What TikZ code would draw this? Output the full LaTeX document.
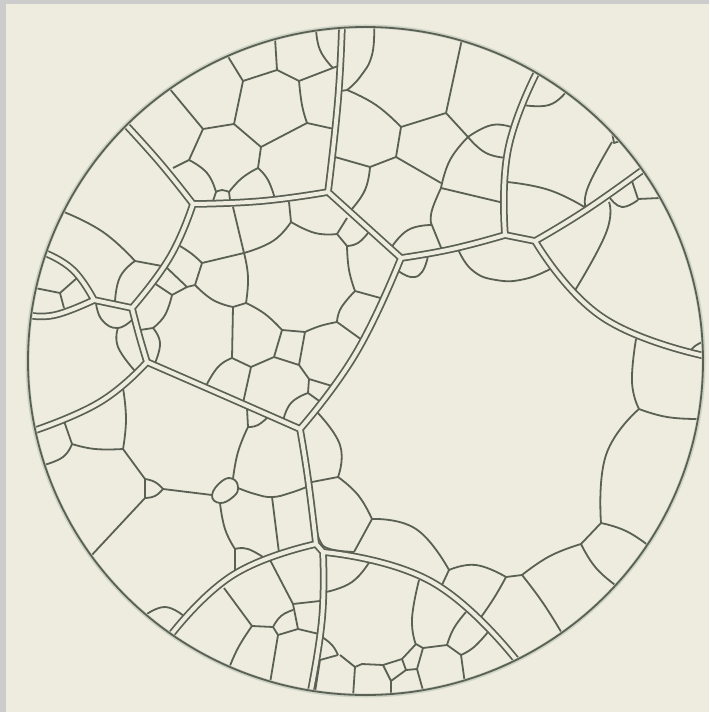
\documentclass[tikz,border=0pt]{standalone}
\definecolor{paper}{HTML}{EEEBDF}
\definecolor{frame}{HTML}{CCCCCC}
\definecolor{ink}{HTML}{5A6154}
\definecolor{halo}{HTML}{CDD3C4}
\newcommand{\wallpaths}{
  plot coordinates {(342,24) (338,100) (328,192)}
  plot coordinates {(328,192) (262,201) (193,204)}
  plot coordinates {(193,204) (161,164) (126,125)}
  plot coordinates {(193,204) (170,257) (132,308)}
  plot coordinates {(28,315) (55,315) (94,300)}
  plot coordinates {(94,300) (73,270) (45,253)}
  (94,300) -- (132,308)
  plot coordinates {(132,308) (139,335) (147,362)}
  plot coordinates {(147,362) (100,402) (33,431)}
  plot coordinates {(147,362) (225,396) (300,429)}
  plot coordinates {(300,429) (356,353) (401,258)}
  (401,258) -- (328,192)
  plot coordinates {(401,258) (452,249) (505,235)}
  plot coordinates {(505,235) (508,150) (537,72)}
  (505,235) -- (535,241)
  plot coordinates {(535,241) (586,210) (644,169)}
  plot coordinates {(535,241) (602,317) (705,356)}
  plot coordinates {(300,429) (308,479) (316,544)}
  plot coordinates {(316,544) (233,575) (170,636)}
  (316,544) -- (323,552)
  plot coordinates {(323,552) (322,619) (310,695)}
  plot coordinates {(323,552) (432,582) (518,662)}
}
\tikzset{
  every plot/.style={smooth,tension=0.8},
  wallout/.style={draw=ink,line width=0.15cm,line join=round},
  wallin/.style={draw=paper,line width=0.08cm,line join=round,line cap=round},
  vein/.style={draw=ink,line width=0.036cm,line join=round},
  rim/.style={draw=ink,line width=0.036cm},
  rimhalo/.style={draw=halo,line width=0.08cm},
  disc/.style={x radius=337.5,y radius=334}
}
\begin{document}
\begin{tikzpicture}[x=0.02cm,y=-0.02cm]
  \useasboundingbox (0,0) rectangle (709,712);
  \fill[frame] (0,0) rectangle (709,712);
  \fill[paper] (6,4) rectangle (709,712);
  \begin{scope}
  \clip (365.5,361) ellipse[disc];
  \draw[vein] (275,38) -- (277,70) (227,55) -- (243,81) -- (277,70) -- (299,81) -- (338,66)
    (307,123) -- (334,129)
    (243,81) -- (234,124) (169,88) -- (203,129) -- (234,124) -- (261,147) -- (307,123)
    (261,147) -- (258,168) (203,129) -- (189,160) -- (173,168)
    (216,192) -- (213,201) (229,192) -- (230,200);
  \draw[vein] plot coordinates {(316,28) (320,50) (333,68)}
    plot coordinates {(299,81) (302,105) (307,123)}
    plot coordinates {(189,160) (207,173) (216,192)}
    plot coordinates {(229,192) (242,178) (258,168)}
    plot coordinates {(258,168) (268,180) (275,199)}
    plot coordinates {(216,192) (222,190) (229,192)};
  \draw[vein] (233,207) -- (244,253) (289,202) -- (291,222) (337,234) -- (347,218) (337,234) -- (347,246)
    (244,253) -- (202,263) (355,291) -- (384,299) (337,322) -- (362,340) (305,332) -- (282,330)
    (246,303) -- (233,307) (202,263) -- (195,285) -- (187,287) -- (172,295) -- (154,283)
    (187,287) -- (166,267) (140,330) -- (153,328) (233,307) -- (232,358)
    (232,358) -- (251,367) -- (243,403) (251,367) -- (274,357) -- (282,330)
    (274,357) -- (299,365) -- (305,332) (299,365) -- (309,379) -- (332,386)
    (309,379) -- (308,393) -- (322,403);
  \draw[vein] plot coordinates {(291,222) (273,241) (244,253)}
    plot coordinates {(291,222) (315,233) (337,234)}
    plot coordinates {(347,246) (358,243) (368,233)}
    plot coordinates {(347,246) (349,270) (355,291)}
    plot coordinates {(355,291) (341,308) (337,322)}
    plot coordinates {(337,322) (320,326) (305,332)}
    plot coordinates {(282,330) (265,314) (246,303)}
    plot coordinates {(233,307) (213,300) (195,285)}
    plot coordinates {(244,253) (248,277) (246,303)}
    plot coordinates {(180,246) (192,254) (202,263)}
    plot coordinates {(172,295) (165,315) (153,328)}
    plot coordinates {(153,328) (160,343) (155,363)}
    plot coordinates {(232,358) (218,367) (206,386)}
    plot coordinates {(308,393) (291,403) (283,421)};
  \draw[vein] (135,261) -- (162,266) (35,288) -- (60,293) -- (77,278) (60,293) -- (64,308);
  \draw[vein] plot coordinates {(64,212) (103,232) (135,261)}
    plot coordinates {(135,261) (120,277) (115,302)}
    plot coordinates {(96,303) (102,320) (118,328) (134,318)}
    plot coordinates {(118,328) (118,347) (135,371)};
  \draw[vein] (64,421) -- (72,444) (123,449) -- (145,479) -- (145,498) (145,498) -- (90,557)
    (163,489) -- (212,495) (248,427) -- (247,408) (272,497) -- (279,553) (235,549) -- (235,572);
  \draw[vein] plot coordinates {(123,388) (126,419) (123,449)}
    plot coordinates {(72,444) (63,457) (44,465)}
    plot coordinates {(72,444) (95,449) (123,449)}
    plot coordinates {(145,479) (155,482) (163,489)}
    plot coordinates {(145,498) (155,496) (163,489)}
    plot[smooth cycle,tension=0.8] coordinates {(212,495) (222,481) (233,479) (238,488) (233,497) (220,503)}
    plot coordinates {(233,479) (238,452) (248,427)}
    plot coordinates {(248,427) (258,425) (269,416)}
    plot coordinates {(238,488) (255,494) (272,497) (290,493) (309,486)}
    plot coordinates {(220,503) (225,529) (235,549)}
    plot coordinates {(235,549) (248,549) (266,559)};
  \draw[vein] (338,477) -- (312,482) (372,519) -- (354,552) (449,570) -- (441,587) (506,577) -- (522,575)
    (447,645) -- (423,648) (447,645) -- (461,655) -- (465,684) (581,544) -- (601,523);
  \draw[vein] plot coordinates {(316,411) (340,445) (338,477)}
    plot coordinates {(338,477) (358,495) (372,519)}
    plot coordinates {(316,525) (320,541) (330,549) (354,552)}
    plot coordinates {(372,519) (416,529) (449,570)}
    plot coordinates {(449,570) (476,565) (506,577)}
    plot coordinates {(506,577) (494,598) (479,620)}
    plot coordinates {(466,612) (454,628) (447,645)}
    plot coordinates {(461,655) (474,647) (488,632)}
    plot coordinates {(522,575) (543,603) (563,635)}
    plot coordinates {(522,575) (550,556) (581,544)}
    plot coordinates {(581,544) (596,568) (618,587)}
    plot coordinates {(601,523) (626,531) (649,546)}
    plot coordinates {(601,523) (606,455) (639,409)}
    plot coordinates {(639,409) (667,417) (699,419)}
    plot coordinates {(639,409) (632,382) (636,339)}
    plot coordinates {(691,350) (695,346) (702,342)};
  \draw[vein] (416,644) -- (423,648) -- (417,669) -- (406,670) -- (402,659) (402,659) -- (416,644)
    (402,659) -- (383,665) -- (391,681) -- (406,670) (391,681) -- (391,697) (417,669) -- (424,694)
    (383,665) -- (362,664) -- (355,667) -- (340,655) (355,667) -- (353,697)
    (338,655) -- (320,660) -- (315,692)
    (269,558) -- (293,604) -- (320,601) (293,604) -- (298,629) -- (319,634)
    (298,629) -- (278,635) -- (273,627) -- (252,626) -- (224,588) (278,635) -- (269.5,686);
  \draw[vein] plot coordinates {(419,580) (412,619) (416,645)}
    plot coordinates {(370,561) (352,582) (326,592)}
    plot coordinates {(322,637) (332,645) (338,655)}
    plot coordinates {(273,627) (281,616) (293,610)}
    plot coordinates {(252,626) (238,648) (228,671)}
    plot coordinates {(144,616) (165,607) (185,617)};
  \draw[vein] (462,39) -- (446,113) (446,113) -- (401,127) (446,113) -- (468,137)
    (401,127) -- (396,157) -- (441,183) (396,157) -- (370,167) -- (335,157)
    (441,188) -- (504,203) (431,223) -- (442,250)
    (631,178) -- (638,199) -- (660,198) (612,132) -- (614,143) -- (620,141);
  \draw[vein] plot coordinates {(374,25) (372,55) (360,77) (347,90)}
    (341,91) -- (347,90)
    plot coordinates {(347,90) (376,105) (401,127)}
    plot coordinates {(468,137) (492,125) (514,128)}
    plot coordinates {(468,137) (486,153) (508,158)}
    plot coordinates {(468,137) (450,160) (441,188)}
    plot coordinates {(370,167) (365,190) (351,210)}
    plot coordinates {(441,188) (432,210) (431,223)}
    plot coordinates {(431,225) (408,230) (391,248)}
    plot coordinates {(397,270) (411,277) (422,272) (428,256)}
    plot coordinates {(458,249) (472,270) (496,280) (525,279) (552,268)}
    plot coordinates {(523,105) (549,105) (566,92)}
    plot coordinates {(507,182) (549,190) (586,208)}
    plot coordinates {(586,208) (588,187) (612,142)}
    plot coordinates {(638,200) (622,207) (610,198)}
    plot coordinates {(609,202) (606,233) (574,292)};
  \draw[wallout] \wallpaths;
  \draw[wallin] \wallpaths;
  \end{scope}
  \draw[rimhalo] (365.5,361) ellipse[x radius=338,y radius=334.5];
  \draw[rim] (365.5,361) ellipse[disc];
\end{tikzpicture}
\end{document}
